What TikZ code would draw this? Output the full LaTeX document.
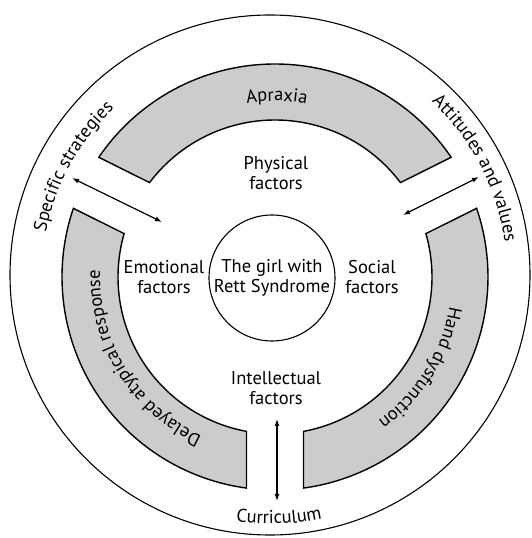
\documentclass[tikz,border=0pt]{standalone}
\usepackage{fontspec}
\setmainfont{PT Sans}
\usetikzlibrary{arrows.meta,decorations.text,calc}
\newcommand\rettfont{\fontsize{18.5}{20}\selectfont}
\begin{document}
\begin{tikzpicture}[x=1pt,y=1pt,
  lab/.style={font=\rettfont, align=center, inner sep=0pt},
  band/.style={draw=black, line width=1.4pt, fill=black!20},
  ring/.style={draw=black, line width=1.1pt},
  dbl/.style={{Latex[length=7pt,width=5pt]}-{Latex[length=7pt,width=5pt]}, line width=1.2pt},
  arctext/.style={decorate, decoration={text along path, text align=center, text={|\rettfont|#1}}}]
\useasboundingbox (0,0) rectangle (532,538);
\coordinate (O) at (270,263);
\coordinate (C) at (275,261);
% outer ring
\draw[ring] (O) circle[radius=260];
% three grey bands
\draw[band] (C) ++(34.19:213) arc[start angle=34.19,end angle=145.81,radius=213]
  -- ($(C)+(143.04:157)$) arc[start angle=143.04,end angle=36.96,radius=157] -- cycle;
\draw[band] (C) ++(161.19:213) arc[start angle=161.19,end angle=262.31,radius=213]
  -- ($(C)+(259.54:157)$) arc[start angle=259.54,end angle=163.96,radius=157] -- cycle;
\draw[band] (C) ++(277.69:213) arc[start angle=277.69,end angle=378.81,radius=213]
  -- ($(C)+(376.04:157)$) arc[start angle=376.04,end angle=280.46,radius=157] -- cycle;
% band labels
\path[arctext={Apraxia}] (C) ++(129.4:176) arc[start angle=129.4,end angle=49.4,radius=176];
\path[arctext={Hand dysfunction}] (C) ++(373:177) arc[start angle=373,end angle=283,radius=177];
\path[arctext={Delayed atypical response}] (C) ++(261.5:175) arc[start angle=261.5,end angle=161.5,radius=175];
% outer ring labels
\path[arctext={Specific strategies}] (O) ++(191.2:228) arc[start angle=191.2,end angle=111.2,radius=228];
\path[arctext={Attitudes and values}] (O) ++(67.5:237) arc[start angle=67.5,end angle=-12.5,radius=237];
\path[arctext={Curriculum}] (O) ++(247.1:249) arc[start angle=247.1,end angle=297.1,radius=249];
% centre
\node[circle, draw, line width=1.1pt, minimum size=126pt, lab] (girl) at (272,260) {The girl with\\Rett Syndrome};
\node[lab] (phys) at (276,364.5) {Physical\\factors};
\node[lab] (emo) at (164,261) {Emotional\\factors};
\node[lab] (soc) at (372,261) {Social\\factors};
\node[lab] (intel) at (276,149.5) {Intellectual\\factors};
% arrows
\coordinate (sL) at (72,360); \coordinate (eL) at (162,316);
\coordinate (sR) at (479,361); \coordinate (eR) at (403,323);
\coordinate (sB) at (277,119); \coordinate (eB) at (277,37);
\draw[dbl] (sL) -- (eL);
\draw[dbl] (sR) -- (eR);
\draw[dbl] (sB) -- (eB);
\end{tikzpicture}
\end{document}
